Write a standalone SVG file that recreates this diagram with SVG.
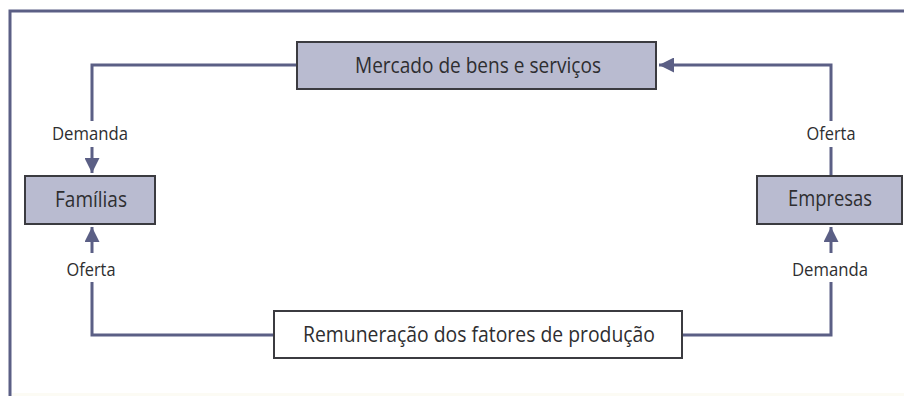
<svg xmlns="http://www.w3.org/2000/svg" width="904" height="396" viewBox="0 0 904 396">
<style>
.box{stroke:#3b3b40;stroke-width:2}
.fill{fill:#b9bbd0}
.white{fill:#ffffff}
.lbl{font-family:"Open Sans","Noto Sans","DejaVu Sans",sans-serif;fill:#2e2e30;text-anchor:middle}
.conn{fill:none;stroke:#5b5f85;stroke-width:3}
.frame{fill:none;stroke:#5b5f85;stroke-width:3}
</style>
<defs>
<marker id="ah" viewBox="0 0 10 10" refX="10" refY="5" markerWidth="5" markerHeight="5" markerUnits="strokeWidth" orient="auto">
<path d="M0,0 L10,5 L0,10 z" fill="#5b5f85"/>
</marker>
</defs>
<rect x="0" y="0" width="904" height="396" fill="#ffffff"/>
<path class="frame" d="M10,396 V11 H904"/>
<rect x="12" y="393" width="892" height="3" fill="#fcfbf4"/>
<g id="connectors">
<path class="conn" d="M297,65 H92 V121"/>
<path class="conn" d="M92,147 V173" marker-end="url(#ah)"/>
<path class="conn" d="M274,335 H92 V282"/>
<path class="conn" d="M92,253 V227" marker-end="url(#ah)"/>
<path class="conn" d="M831,147 V176"/>
<path class="conn" d="M831,121 V65 H659" marker-end="url(#ah)"/>
<path class="conn" d="M682,335 H831 V282"/>
<path class="conn" d="M831,253 V227" marker-end="url(#ah)"/>
</g>
<g id="mercado">
<rect class="box fill" x="297" y="42" width="359" height="47"/>
<text class="lbl" x="478" y="73" font-size="21" textLength="246" lengthAdjust="spacingAndGlyphs">Mercado de bens e serviços</text>
</g>
<g id="familias">
<rect class="box fill" x="25" y="176" width="130" height="48"/>
<text class="lbl" x="91" y="207" font-size="21" textLength="72" lengthAdjust="spacingAndGlyphs">Famílias</text>
</g>
<g id="empresas">
<rect class="box fill" x="757" y="176" width="145" height="48"/>
<text class="lbl" x="830" y="206" font-size="21" textLength="84" lengthAdjust="spacingAndGlyphs">Empresas</text>
</g>
<g id="remuneracao">
<rect class="box white" x="274" y="311" width="408" height="47"/>
<text class="lbl" x="479" y="342" font-size="21" textLength="352" lengthAdjust="spacingAndGlyphs">Remuneração dos fatores de produção</text>
</g>
<g id="labels">
<text class="lbl" x="90" y="140" font-size="18" textLength="76" lengthAdjust="spacingAndGlyphs">Demanda</text>
<text class="lbl" x="91" y="276" font-size="18" textLength="49" lengthAdjust="spacingAndGlyphs">Oferta</text>
<text class="lbl" x="831" y="140" font-size="18" textLength="49" lengthAdjust="spacingAndGlyphs">Oferta</text>
<text class="lbl" x="830" y="276" font-size="18" textLength="76" lengthAdjust="spacingAndGlyphs">Demanda</text>
</g>
</svg>
